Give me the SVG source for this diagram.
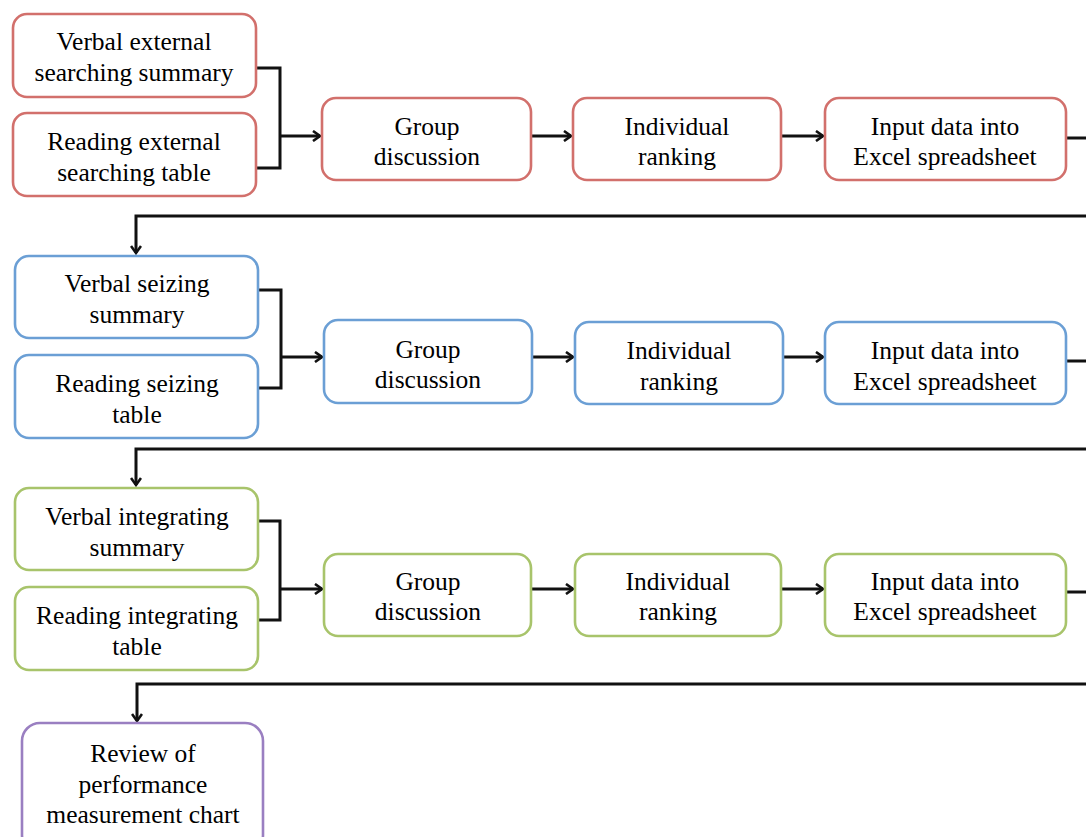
<svg xmlns="http://www.w3.org/2000/svg" width="1086" height="837" viewBox="0 0 1086 837">
  <style>
    .box { fill: #ffffff; stroke-width: 2.6; }
    .red { stroke: #d2706c; }
    .blue { stroke: #6b9fd5; }
    .green { stroke: #a8c46b; }
    .purple { stroke: #9a7fc1; }
    text { font-family: "Liberation Serif", "Times New Roman", serif; font-size: 25.5px; fill: #000000; text-anchor: middle; }
    .wire { fill: none; stroke: #111111; stroke-width: 3; }
  </style>
  <defs>
    <marker id="arrow" viewBox="0 0 12 12" refX="10" refY="6" markerWidth="12" markerHeight="12" markerUnits="userSpaceOnUse" orient="auto">
      <polyline points="3,1 10,6 3,11" fill="none" stroke="#111111" stroke-width="2.6"/>
    </marker>
  </defs>
  <rect width="1086" height="837" fill="#ffffff"/>

  <!-- connectors -->
  <g id="connectors">
    <!-- stage 1 -->
    <polyline class="wire" points="257,68 280,68 280,168 257,168"/>
    <line class="wire" x1="280" y1="136" x2="320" y2="136" marker-end="url(#arrow)"/>
    <line class="wire" x1="532" y1="136" x2="571" y2="136" marker-end="url(#arrow)"/>
    <line class="wire" x1="782" y1="136" x2="823" y2="136" marker-end="url(#arrow)"/>
    <polyline class="wire" points="1067,138 1086,138"/>
    <polyline class="wire" points="1086,216 136,216 136,253" marker-end="url(#arrow)"/>
    <!-- stage 2 -->
    <polyline class="wire" points="259,290 281,290 281,388 259,388"/>
    <line class="wire" x1="281" y1="357" x2="322" y2="357" marker-end="url(#arrow)"/>
    <line class="wire" x1="533" y1="357" x2="573" y2="357" marker-end="url(#arrow)"/>
    <line class="wire" x1="784" y1="357" x2="823" y2="357" marker-end="url(#arrow)"/>
    <polyline class="wire" points="1067,361 1086,361"/>
    <polyline class="wire" points="1086,449 136,449 136,485" marker-end="url(#arrow)"/>
    <!-- stage 3 -->
    <polyline class="wire" points="259,521 280,521 280,620 259,620"/>
    <line class="wire" x1="280" y1="589" x2="322" y2="589" marker-end="url(#arrow)"/>
    <line class="wire" x1="532" y1="589" x2="573" y2="589" marker-end="url(#arrow)"/>
    <line class="wire" x1="782" y1="589" x2="823" y2="589" marker-end="url(#arrow)"/>
    <polyline class="wire" points="1067,592 1086,592"/>
    <polyline class="wire" points="1086,684 137,684 137,721" marker-end="url(#arrow)"/>
  </g>

  <!-- stage 1: external searching -->
  <g id="verbal-external">
    <rect class="box red" x="13" y="14" width="243" height="83" rx="14"/>
    <text x="134" y="50">Verbal external</text>
    <text x="134" y="81">searching summary</text>
  </g>
  <g id="reading-external">
    <rect class="box red" x="13" y="113" width="243" height="83" rx="14"/>
    <text x="134" y="150">Reading external</text>
    <text x="134" y="181">searching table</text>
  </g>
  <g id="group-1">
    <rect class="box red" x="322" y="98" width="209" height="82" rx="14"/>
    <text x="427" y="135">Group</text>
    <text x="427" y="165">discussion</text>
  </g>
  <g id="ranking-1">
    <rect class="box red" x="573" y="98" width="208" height="82" rx="14"/>
    <text x="677" y="135">Individual</text>
    <text x="677" y="165">ranking</text>
  </g>
  <g id="excel-1">
    <rect class="box red" x="825" y="98" width="241" height="82" rx="14"/>
    <text x="945" y="135">Input data into</text>
    <text x="945" y="165">Excel spreadsheet</text>
  </g>

  <!-- stage 2: seizing -->
  <g id="verbal-seizing">
    <rect class="box blue" x="15" y="256" width="243" height="82" rx="14"/>
    <text x="137" y="292">Verbal seizing</text>
    <text x="137" y="323">summary</text>
  </g>
  <g id="reading-seizing">
    <rect class="box blue" x="15" y="355" width="243" height="83" rx="14"/>
    <text x="137" y="392">Reading seizing</text>
    <text x="137" y="423">table</text>
  </g>
  <g id="group-2">
    <rect class="box blue" x="324" y="320" width="208" height="83" rx="14"/>
    <text x="428" y="358">Group</text>
    <text x="428" y="388">discussion</text>
  </g>
  <g id="ranking-2">
    <rect class="box blue" x="575" y="322" width="208" height="82" rx="14"/>
    <text x="679" y="359">Individual</text>
    <text x="679" y="390">ranking</text>
  </g>
  <g id="excel-2">
    <rect class="box blue" x="825" y="322" width="241" height="82" rx="14"/>
    <text x="945" y="359">Input data into</text>
    <text x="945" y="390">Excel spreadsheet</text>
  </g>

  <!-- stage 3: integrating -->
  <g id="verbal-integrating">
    <rect class="box green" x="15" y="488" width="243" height="82" rx="14"/>
    <text x="137" y="525">Verbal integrating</text>
    <text x="137" y="556">summary</text>
  </g>
  <g id="reading-integrating">
    <rect class="box green" x="15" y="587" width="243" height="83" rx="14"/>
    <text x="137" y="624">Reading integrating</text>
    <text x="137" y="655">table</text>
  </g>
  <g id="group-3">
    <rect class="box green" x="324" y="554" width="207" height="82" rx="14"/>
    <text x="428" y="590">Group</text>
    <text x="428" y="620">discussion</text>
  </g>
  <g id="ranking-3">
    <rect class="box green" x="575" y="554" width="206" height="82" rx="14"/>
    <text x="678" y="590">Individual</text>
    <text x="678" y="620">ranking</text>
  </g>
  <g id="excel-3">
    <rect class="box green" x="825" y="554" width="241" height="82" rx="14"/>
    <text x="945" y="590">Input data into</text>
    <text x="945" y="620">Excel spreadsheet</text>
  </g>

  <!-- final review -->
  <g id="review">
    <rect class="box purple" x="22" y="723" width="241" height="130" rx="18"/>
    <text x="143" y="762">Review of</text>
    <text x="143" y="793">performance</text>
    <text x="143" y="823">measurement chart</text>
  </g>
</svg>
